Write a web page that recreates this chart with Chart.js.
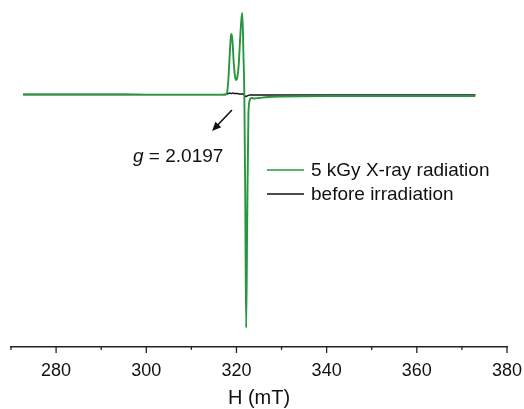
<!DOCTYPE html>
<html>
<head>
<meta charset="utf-8">
<script src="https://cdn.jsdelivr.net/npm/chart.js@4.4.1/dist/chart.umd.min.js"></script>
<style>
    body { margin: 0; background: #fff; }
    #wrap { width: 524px; height: 409px; }
</style>
</head>
<body>
<div id="wrap"><canvas id="epr" width="524" height="409"></canvas></div>
<script>
// magnetic field (mT)
let fieldH = [272.7, 280, 290, 300, 310, 316, 317.6, 317.9, 318.2, 318.5, 318.75, 318.9, 319.1, 319.4, 319.7, 319.9,
    320.2, 320.5, 320.8, 321.1, 321.3, 321.55, 321.75, 321.95, 322.15, 322.4, 322.65, 322.9, 323.3, 324, 325, 327,
    330, 340, 350, 360, 373];

// signal, arbitrary units
let irradiated = [0.5, 0.5, 0.5, 0.3, 0.3, 0.3, 0.5, 2, 15, 40, 58, 61, 55, 32, 18, 15,
    18, 30, 55, 76, 82, 40, 0, -100, -233, -120, -20, -6, -3, -3.5, -3, -2,
    -1.5, -1, -1, -1, -1];

let before = [0.5, 0.5, 0.5, 0.3, 0.3, 0.3, 0.5, 1, 1.5, 2, 1.5, 1.5, 2, 1.5, 1.5, 1.5,
    1.5, 1, 1, 1, 1, 1, 0, -1.5, -1.5, -1, -0.5, 0, 0, 0, 0, 0,
    0, 0, 0, 0, 0];

let seriesNames = ['5 kGy X-ray radiation', 'before irradiation'];
let majorTicks = [280, 300, 320, 340, 360, 380];
let minorTicks = [270, 290, 310, 330, 350, 370];

let font = '"Liberation Sans", Arial, sans-serif';

function points(ys) {
    return fieldH.map(function (h, i) { return {x: h, y: ys[i]}; });
}

let extras = {
    id: 'extras',
    afterDraw(chart) {
        let c = chart.ctx;
        let x = chart.scales.x;
        let y = chart.scales.y;
        let bottom = chart.chartArea.bottom;

        c.save();
        // tick marks (major longer than minor)
        c.strokeStyle = '#222';
        c.lineWidth = 1.3;
        majorTicks.concat(minorTicks).forEach(function (v) {
            let px = x.getPixelForValue(v);
            let len = majorTicks.indexOf(v) >= 0 ? 6 : 3;
            c.beginPath();
            c.moveTo(px, bottom);
            c.lineTo(px, bottom + len);
            c.stroke();
        });

        // legend
        chart.data.datasets.forEach(function (ds, i) {
            let ly = 170 + i * 24;
            c.strokeStyle = ds.borderColor;
            c.lineWidth = 1.6;
            c.beginPath();
            c.moveTo(267, ly);
            c.lineTo(304, ly);
            c.stroke();
            c.fillStyle = '#111';
            c.font = '19px ' + font;
            c.textBaseline = 'middle';
            c.textAlign = 'left';
            c.fillText(ds.label, 311, ly + 1);
        });

        // g-value arrow
        let x0 = x.getPixelForValue(319.0), y0 = y.getPixelForValue(-15);
        let x1 = x.getPixelForValue(314.6), y1 = y.getPixelForValue(-36);
        let ang = Math.atan2(y1 - y0, x1 - x0);
        c.strokeStyle = '#111';
        c.fillStyle = '#111';
        c.lineWidth = 1.6;
        c.beginPath();
        c.moveTo(x0, y0);
        c.lineTo(x1 - 4 * Math.cos(ang), y1 - 4 * Math.sin(ang));
        c.stroke();
        c.beginPath();
        c.moveTo(x1, y1);
        c.lineTo(x1 - 9 * Math.cos(ang) + 4 * Math.sin(ang), y1 - 9 * Math.sin(ang) - 4 * Math.cos(ang));
        c.lineTo(x1 - 9 * Math.cos(ang) - 4 * Math.sin(ang), y1 - 9 * Math.sin(ang) + 4 * Math.cos(ang));
        c.closePath();
        c.fill();

        c.textBaseline = 'alphabetic';
        c.textAlign = 'left';
        c.font = 'italic 19px ' + font;
        c.fillText('g', 133, 162);
        let gw = c.measureText('g').width;
        c.font = '19px ' + font;
        c.fillText(' = 2.0197', 133 + gw, 162);
        c.restore();
    }
};

new Chart(document.getElementById('epr'), {
    type: 'line',
    data: {
        datasets: [{
            label: seriesNames[0],
            data: points(irradiated),
            borderColor: '#27963f',
            borderWidth: 1.9,
            pointRadius: 0,
            cubicInterpolationMode: 'monotone'
        }, {
            label: seriesNames[1],
            data: points(before),
            borderColor: '#111111',
            borderWidth: 1.4,
            pointRadius: 0,
            cubicInterpolationMode: 'monotone'
        }]
    },
    options: {
        responsive: false,
        animation: false,
        layout: {padding: {left: 11, right: 17, top: 5, bottom: 0}},
        plugins: {legend: {display: false}, tooltip: {enabled: false}},
        scales: {
            x: {
                type: 'linear',
                min: 270,
                max: 380,
                border: {display: true, color: '#222', width: 1.5},
                grid: {
                    drawOnChartArea: false,
                    tickLength: 13,
                    tickColor: 'rgba(0,0,0,0)'
                },
                ticks: {
                    stepSize: 10,
                    padding: 0,
                    color: '#111',
                    font: {family: font, size: 18},
                    maxRotation: 0,
                    autoSkip: false,
                    callback: function (v) { return majorTicks.indexOf(v) >= 0 ? v : ''; }
                },
                title: {
                    display: true,
                    text: 'H (mT)',
                    color: '#111',
                    font: {family: font, size: 20, lineHeight: 0.9},
                    padding: {top: 8, bottom: 1.5}
                }
            },
            y: {
                display: false,
                min: -252,
                max: 90
            }
        }
    },
    plugins: [extras]
});
</script>
</body>
</html>
